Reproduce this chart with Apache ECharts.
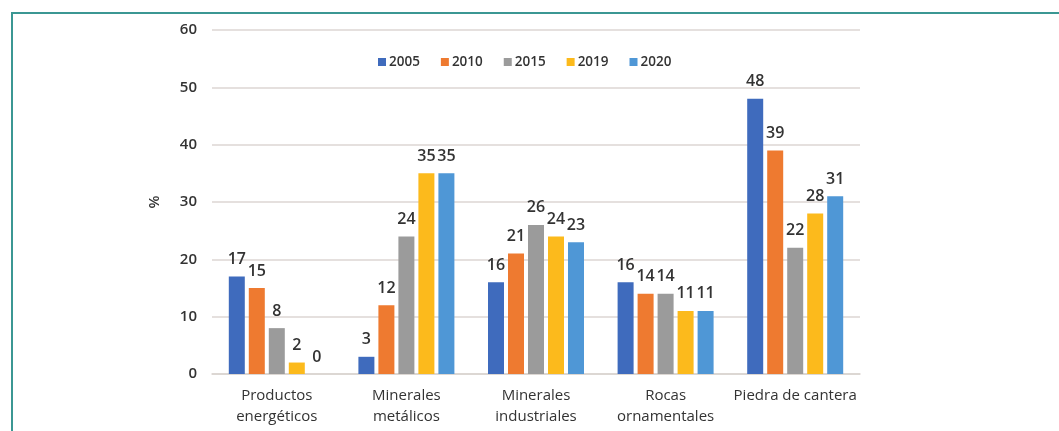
<!DOCTYPE html>
<html>
<head>
<meta charset="utf-8">
<script src="https://cdn.jsdelivr.net/npm/echarts@6/dist/echarts.min.js"></script>
<style>
  html, body { margin: 0; padding: 0; background: #fff; }
  #frame {
    position: absolute; left: 11px; top: 12px; right: 0; bottom: 0;
    border-top: 2px solid #3b9793; border-left: 2px solid #3b9793;
  }
  #chart { position: absolute; left: 0; top: 0; width: 1059px; height: 431px; }
</style>
</head>
<body>
<div id="frame"></div>
<div id="chart"></div>
<script>
// Share by product group (%), per year
const categories = ['Productos\nenergéticos', 'Minerales\nmetálicos', 'Minerales\nindustriales', 'Rocas\nornamentales', 'Piedra de cantera'];
const years = ['2005', '2010', '2015', '2019', '2020'];
const v2005 = [17, 3, 16, 16, 48];
const v2010 = [15, 12, 21, 14, 39];
const v2015 = [8, 24, 26, 14, 22];
const v2019 = [2, 35, 24, 11, 28];
const v2020 = [0, 35, 23, 11, 31];
const yTicks = [0, 10, 20, 30, 40, 50, 60];

const colors = ['#3f6bbd', '#ee7a30', '#9b9b9b', '#fcba1c', '#4f97d6'];
const seriesValues = [v2005, v2010, v2015, v2019, v2020];
const font = '"Open Sans", "Liberation Sans", sans-serif';
const ink = '#333333';

const chart = echarts.init(document.getElementById('chart'));
chart.setOption({
  animation: false,
  color: colors,
  textStyle: { fontFamily: font },
  grid: { left: 212, right: 199, top: 30, bottom: 57, containLabel: false },
  legend: {
    data: years,
    top: 50,
    left: 373,
    itemWidth: 8,
    itemHeight: 8,
    itemGap: 21,
    icon: 'rect',
    textStyle: { fontFamily: font, fontSize: 13.5, fontWeight: 600, color: ink, padding: [0, 0, 0, -2] }
  },
  xAxis: {
    type: 'category',
    data: categories,
    axisLine: { lineStyle: { color: '#d9d3d0', width: 1.5 } },
    axisTick: { show: false },
    axisLabel: { interval: 0, fontFamily: font, fontSize: 15, fontWeight: 500, color: ink, lineHeight: 21, margin: 11 }
  },
  yAxis: {
    type: 'value',
    min: yTicks[0],
    max: yTicks[yTicks.length - 1],
    interval: 10,
    name: '%',
    nameLocation: 'middle',
    nameGap: 50,
    nameRotate: 90,
    nameTextStyle: { fontFamily: font, fontSize: 15, fontWeight: 600, color: ink },
    axisLine: { show: false },
    axisTick: { show: false },
    axisLabel: { fontFamily: font, fontSize: 15, color: ink, fontWeight: 600, margin: 15 },
    splitLine: { lineStyle: { color: '#ddd6d3', width: 1.5 } }
  },
  series: years.map((y, i) => ({
    name: y,
    type: 'bar',
    data: seriesValues[i],
    barWidth: 16,
    barGap: '25%',
    label: {
      show: true,
      position: 'top',
      distance: 9,
      fontFamily: font,
      fontSize: 16,
      fontWeight: 600,
      color: ink
    }
  }))
});
</script>
</body>
</html>
